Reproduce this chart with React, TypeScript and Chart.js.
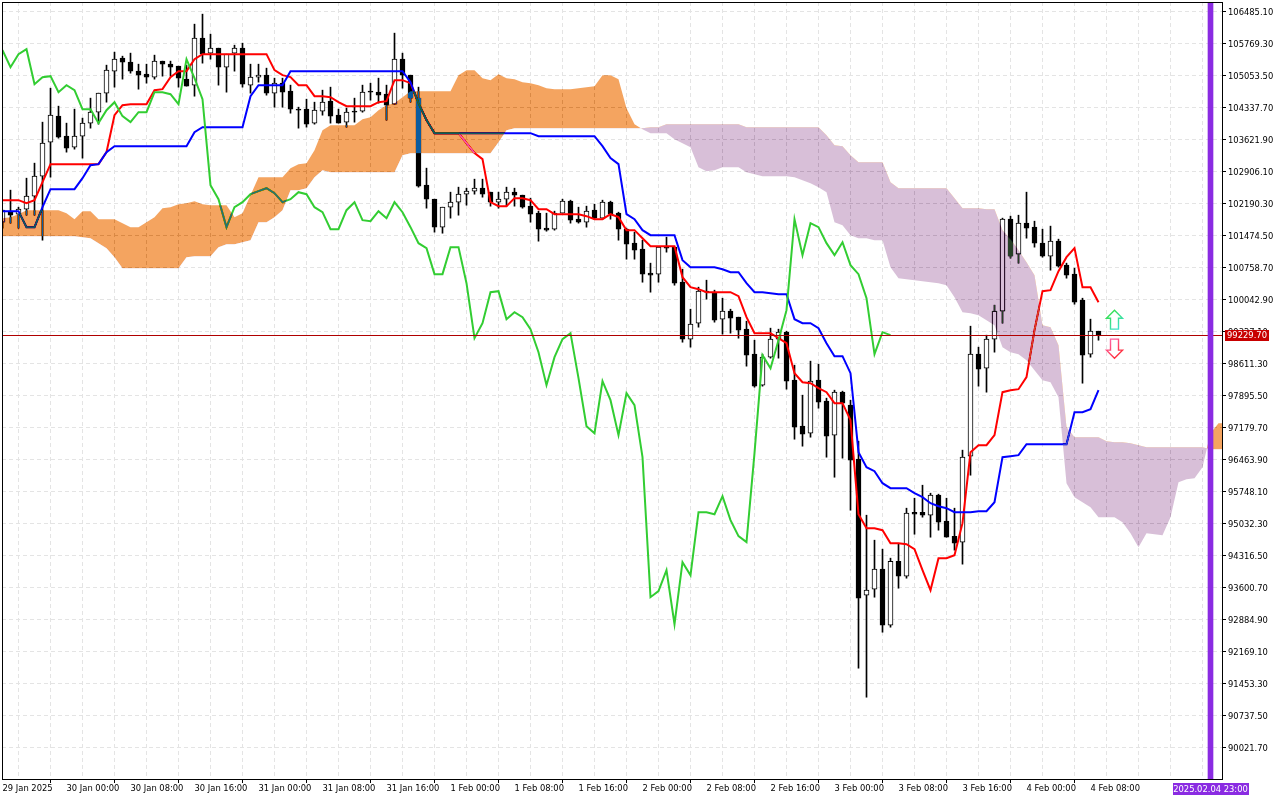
import React, { useEffect, useRef } from "react";
import { Chart, registerables } from "chart.js";

const OPENS = [
  101765, 101988, 101943, 102056, 102347, 102794, 103554, 104136, 103689, 103443,
  103689, 103980, 104225, 104651, 105143, 105434, 105344, 105143, 105076, 105009,
  105367, 105299, 105255, 104964, 104830, 105881, 105546, 105657, 105232, 105546,
  105657, 104830, 105009, 105053, 104651, 104874, 104695, 104293, 104293, 103980,
  104248, 104472, 104158, 104002, 104248, 104248, 104695, 104673, 104628, 104404,
  105411, 105053, 104539, 102593, 102279, 101653, 102100, 102212, 102391, 102458,
  102525, 102436, 102212, 102279, 102436, 102369, 102123, 101966, 101631, 101608,
  101966, 102235, 101832, 101765, 102033, 101855, 102212, 101966, 101608, 101295,
  101161, 100624, 100602, 101206, 101206, 100422, 99147, 99506, 100222, 100177,
  99595, 99774, 99640, 99371, 98812, 98118, 98745, 99147, 99304, 98230,
  97202, 97045, 98230, 97761, 97000, 97962, 97671, 96463, 93421, 93555,
  94003, 92750, 94181, 93846, 95277, 95277, 95210, 95658, 95076, 94740,
  94606, 96530, 98812, 98499, 99147, 99774, 101832, 101050, 101743, 101653,
  101295, 101005, 101340, 100803, 100602, 100020, 98812, 99326,
];
const CLOSES = [
  102033, 101921, 102056, 102347, 102794, 103532, 104158, 103666, 103420, 103689,
  103980, 104225, 104651, 105165, 105411, 105344, 105143, 105053, 105009, 105367,
  105299, 105232, 104986, 104808, 105881, 105523, 105657, 105232, 105523, 105657,
  104852, 105009, 105053, 104651, 104874, 104673, 104293, 104270, 103957, 104270,
  104449, 104136, 103980, 104225, 104225, 104673, 104673, 104606, 104382, 105411,
  105053, 104539, 102570, 102279, 101653, 102100, 102212, 102391, 102458, 102525,
  102391, 102212, 102279, 102436, 102369, 102100, 101943, 101608, 101586, 101966,
  102235, 101810, 101765, 102011, 101855, 102212, 101943, 101608, 101273, 101139,
  100602, 100579, 101206, 101184, 100400, 99147, 99484, 100222, 100199, 99573,
  99774, 99618, 99349, 98790, 98096, 98745, 99147, 99304, 98208, 97180,
  97023, 98208, 97738, 96978, 97962, 97716, 96441, 93354, 93533, 94003,
  92750, 94181, 93846, 95255, 95232, 95210, 95658, 95054, 94718, 94584,
  96508, 98812, 98477, 99147, 99774, 101832, 101005, 101743, 101631, 101295,
  101005, 101340, 100781, 100579, 99975, 98790, 99326, 99229.7,
];
const HIGHS = [
  102033, 102481, 102100, 102749, 103085, 104002, 104762, 104360, 103980, 104293,
  104092, 104539, 104651, 105277, 105568, 105478, 105546, 105299, 105299, 105501,
  105367, 105367, 105255, 105277, 106194, 106418, 105970, 105657, 105523, 105724,
  105769, 105299, 105299, 105210, 104986, 104986, 104830, 104337, 104516, 104449,
  104718, 104785, 104293, 104315, 104539, 104830, 104874, 104986, 104830, 105993,
  105546, 105053, 104785, 102973, 102279, 102100, 102436, 102548, 102525, 102727,
  102727, 102436, 102436, 102548, 102525, 102369, 102302, 102011, 101966, 102011,
  102279, 102257, 102100, 102123, 102167, 102257, 102235, 101988, 101631, 101541,
  101362, 100848, 101206, 101429, 101206, 100713, 99818, 100311, 100467, 100244,
  100064, 99818, 99640, 99550, 99125, 98812, 99394, 99371, 99326, 98566,
  97895, 98656, 98589, 97828, 98007, 97985, 97783, 96866, 95210, 94651,
  94450, 94249, 94562, 95367, 95590, 95881, 95702, 95680, 95590, 95367,
  96665, 99438, 98969, 99237, 99908, 101855, 101899, 101921, 102436, 101787,
  101608, 101676, 101385, 100848, 100736, 100064, 99595, 99326,
];
const LOWS = [
  101631, 101743, 101631, 101921, 101921, 101362, 102772, 103644, 103331, 103398,
  103197, 103868, 103957, 104449, 104785, 104964, 105098, 104740, 104874, 104964,
  105031, 105031, 104785, 104808, 104583, 105322, 105411, 104830, 104673, 105143,
  104785, 104651, 104897, 104606, 104337, 104337, 104203, 103868, 103890, 103957,
  104158, 103980, 103980, 103890, 104002, 104225, 104494, 104427, 104047, 104404,
  104762, 104449, 102548, 102078, 101541, 101518, 101855, 101921, 102145, 102391,
  102324, 102123, 102078, 102123, 102123, 102078, 101765, 101340, 101563, 101586,
  101966, 101743, 101743, 101653, 101832, 101832, 101832, 101362, 100937, 100937,
  100422, 100199, 100422, 101094, 100355, 99080, 98969, 99416, 100042, 99528,
  99260, 99282, 99170, 98544, 98074, 98096, 98723, 98723, 98029, 96910,
  96754, 96955, 97604, 96508, 96060, 96486, 95322, 91788, 91139, 93376,
  92593, 92705, 93577, 93801, 94785, 95166, 94718, 94875, 94718, 94428,
  94115, 96105, 98096, 97962, 98857, 99506, 100960, 100848, 101407, 101206,
  100982, 100691, 100758, 100512, 99930, 98163, 98745, 99125,
];
const TENKAN = [
  102257, 102257, 102257, 102190, 102257, 102659, 103063, 103063, 103063, 103063,
  103063, 103063, 103063, 103331, 104158, 104382, 104404, 104404, 104404, 104718,
  104740, 105009, 105143, 105143, 105411, 105523, 105523, 105523, 105523, 105523,
  105523, 105523, 105523, 105523, 105165, 105053, 105009, 104830, 104830, 104583,
  104583, 104561, 104449, 104360, 104360, 104360, 104360, 104449, 104472, 104941,
  104941, 104874, 104427, 104047, 103756, 103756, 103756, 103756, 103532, 103309,
  103174, 102212, 102123, 102123, 102302, 102302, 102257, 102056, 102056, 101943,
  101943, 101943, 101943, 101899, 101832, 101832, 101943, 101877, 101586, 101586,
  101407, 101228, 101228, 101228, 101228, 100534, 100311, 100266, 100199, 100199,
  100199, 100199, 100110, 99640, 99282, 99282, 99282, 99170, 99058, 98387,
  98185, 98163, 98051, 97962, 97716, 97716, 97336, 95232, 94920, 94920,
  94875, 94584, 94584, 94562, 94450, 93980, 93533, 94249, 94249, 94316,
  95032, 96620, 96776, 96776, 97000, 97962, 98007, 98029, 98298, 99349,
  100222, 100244, 100669, 100982, 101184, 100311, 100311, 99975,
];
const KIJUN = [
  102011, 102011, 102011, 101653, 101653, 102100, 102503, 102503, 102503, 102503,
  102749, 103040, 103063, 103331, 103465, 103465, 103465, 103465, 103465, 103465,
  103465, 103465, 103465, 103465, 103778, 103890, 103890, 103890, 103890, 103890,
  103890, 104583, 104830, 104830, 104830, 104830, 105143, 105143, 105143, 105143,
  105143, 105143, 105143, 105143, 105143, 105143, 105143, 105143, 105143, 105143,
  105143, 104897, 104427, 104047, 103756, 103756, 103756, 103756, 103756, 103756,
  103756, 103756, 103756, 103756, 103756, 103756, 103756, 103689, 103689, 103689,
  103689, 103689, 103689, 103689, 103689, 103465, 103197, 103063, 101943, 101832,
  101586, 101474, 101474, 101474, 101474, 100915, 100758, 100758, 100758, 100758,
  100713, 100646, 100646, 100400, 100199, 100199, 100177, 100154, 100154, 99595,
  99506, 99506, 99394, 99058, 98767, 98767, 98387, 96620, 96285, 96195,
  95926, 95815, 95815, 95815, 95703, 95613, 95479, 95412, 95367, 95278,
  95278, 95278, 95300, 95300, 95501, 96508, 96530, 96553, 96799, 96799,
  96799, 96799, 96799, 96799, 97515, 97515, 97582, 98007,
];
const CHIKOU = [
  105613, 105232, 105523, 105635, 104852, 105009, 105031, 104673, 104830, 104718,
  104293, 104293, 103980, 104270, 104449, 104136, 104002, 104225, 104225, 104673,
  104673, 104628, 104404, 105411, 104986, 104516, 102593, 102279, 101653, 102100,
  102212, 102391, 102458, 102525, 102414, 102212, 102279, 102436, 102391, 102100,
  101988, 101608, 101608, 102033, 102212, 101810, 101787, 102011, 101855, 102212,
  101988, 101653, 101295, 101184, 100602, 100602, 101206, 101206, 100400, 99170,
  99506, 100199, 100222, 99595, 99751, 99640, 99371, 98857, 98119, 98745,
  99147, 99282, 98275, 97202, 97045, 98208, 97783, 97000, 97940, 97671,
  96508, 93376, 93511, 93980, 92772, 94159, 93868, 95278, 95278, 95232,
  95635, 95099, 94741, 94607, 96598, 98790, 98499, 99125, 99796, 101832,
  101027, 101743, 101653, 101295, 101027, 101317, 100803, 100602, 100065, 98812,
  99304, 99237,
];
const SENKOU_A = [
  101855, 101877, 101943, 102033, 102033, 102033, 102033, 102033, 101966, 101832,
  102011, 102011, 101832, 101832, 101832, 101743, 101653, 101653, 101765, 101877,
  102078, 102100, 102167, 102190, 102235, 102167, 102145, 102145, 102145, 101877,
  101966, 102369, 102772, 102772, 102772, 102772, 102973, 103063, 103085, 103376,
  103823, 103935, 103935, 103935, 103935, 104069, 104114, 104270, 104382, 104427,
  104561, 104695, 104695, 104695, 104695, 104695, 104695, 105053, 105165, 105165,
  104986, 104941, 105076, 104986, 104964, 104897, 104874, 104830, 104762, 104740,
  104740, 104740, 104762, 104785, 104808, 105053, 105053, 104964, 104315, 103957,
  103845, 103756, 103756, 103756, 103622, 103532, 103443, 102995, 102906, 102928,
  102995, 102995, 102995, 102884, 102839, 102794, 102794, 102794, 102794, 102772,
  102704, 102637, 102548, 102436, 101765, 101698, 101474, 101407, 101407, 101362,
  101362, 100758, 100512, 100489, 100467, 100445, 100422, 100400, 100355, 100087,
  99751, 99729, 99685, 99573, 99461, 98969, 98857, 98813, 98678, 98454,
  98230, 98185, 97850, 95926, 95613, 95501, 95389, 95165, 95165, 95165,
  95054, 94808, 94495, 94808, 94785, 94763, 95165, 95948, 96015, 96038,
  96284, 97045, 97269, 97269,
];
const SENKOU_B = [
  101452, 101452, 101452, 101452, 101452, 101452, 101452, 101452, 101452, 101452,
  101429, 101407, 101295, 101184, 100982, 100736, 100736, 100736, 100736, 100736,
  100736, 100736, 100736, 100982, 101005, 101005, 101005, 101206, 101273, 101273,
  101318, 101362, 101765, 101765, 101877, 102033, 102481, 102481, 102525, 102772,
  102928, 102884, 102884, 102884, 102884, 102884, 102884, 102884, 102884, 102884,
  103264, 103309, 103309, 103309, 103309, 103309, 103309, 103309, 103309, 103309,
  103309, 103309, 103555, 103823, 103868, 103868, 103868, 103868, 103868, 103868,
  103868, 103868, 103868, 103868, 103868, 103868, 103868, 103868, 103868, 103868,
  103868, 103890, 103890, 103957, 103957, 103957, 103957, 103957, 103957, 103957,
  103957, 103957, 103957, 103890, 103890, 103890, 103890, 103890, 103890, 103890,
  103890, 103890, 103890, 103711, 103487, 103465, 103264, 103107, 103107, 103107,
  103107, 102659, 102525, 102525, 102525, 102525, 102525, 102525, 102525, 102302,
  102078, 102078, 102078, 102056, 102056, 101586, 101385, 101139, 100870, 100579,
  99461, 99416, 99013, 97180, 96955, 96955, 96955, 96955, 96865, 96843,
  96843, 96820, 96776, 96731, 96731, 96731, 96731, 96731, 96731, 96731,
  96731, 96686, 96686, 96686,
];
const Y_TICKS = [
  106485.1, 105769.3, 105053.5, 104337.7, 103621.9, 102906.1, 102190.3, 101474.5,
  100758.7, 100042.9, 99327.1, 98611.3, 97895.5, 97179.7, 96463.9, 95748.1,
  95032.3, 94316.5, 93600.7, 92884.9, 92169.1, 91453.3, 90737.5, 90021.7,
];
const X_LABELS = [
  "29 Jan 2025", "30 Jan 00:00", "30 Jan 08:00", "30 Jan 16:00", "31 Jan 00:00", "31 Jan 08:00",
  "31 Jan 16:00", "1 Feb 00:00", "1 Feb 08:00", "1 Feb 16:00", "2 Feb 00:00", "2 Feb 08:00",
  "2 Feb 16:00", "3 Feb 00:00", "3 Feb 08:00", "3 Feb 16:00", "4 Feb 00:00", "4 Feb 08:00",
];
const CURRENT_PRICE = 99229.7;
const PERIOD_BAR = 151;
const PERIOD_LABEL = "2025.02.04 23:00";
const ARROW_BAR = 139;
const UP_ARROW = [99796, 99372];
const DOWN_ARROW = [98723, 99148];

const Y_MAX = 106689.8;
const Y_MIN = 89309.3;
const X_MIN = -0.0625;
const X_MAX = 152.4375;
const FONT = { family: "'DejaVu Sans Condensed', 'DejaVu Sans', sans-serif", size: 9.3 };
const FONT_CSS = "9.3px 'DejaVu Sans Condensed', 'DejaVu Sans', sans-serif";
const CLOUD_ORANGE_DIFF = "rgb(11,91,159)";
const CLOUD_THISTLE_DIFF = "rgb(39,64,39)";

const toXY = (values: number[]) => values.map((y, x) => ({ x, y }));

const cloudBlend = {
  id: "cloudBlend",
  beforeDatasetDraw(chart: any, args: any) {
    if (chart.data.datasets[args.index].isCloud) chart.ctx.globalCompositeOperation = "difference";
  },
  afterDatasetDraw(chart: any, args: any) {
    if (chart.data.datasets[args.index].isCloud) chart.ctx.globalCompositeOperation = "source-over";
  },
};

const overlay = {
  id: "overlay",
  beforeDraw(chart: any) {
    const { ctx, width, height } = chart;
    ctx.save();
    ctx.fillStyle = "#ffffff";
    ctx.fillRect(0, 0, width, height);
    ctx.restore();
  },
  afterDraw(chart: any) {
    const { ctx, chartArea: a, scales } = chart;
    const x = scales.x;
    const y = scales.y;
    ctx.save();
    ctx.strokeStyle = "#000";
    ctx.lineWidth = 1;
    ctx.strokeRect(a.left + 0.5, a.top + 0.5, a.right - a.left, a.bottom - a.top);

    const arrow = (tip: number, base: number, colors: string[]) => {
      const cx = x.getPixelForValue(ARROW_BAR);
      const t = y.getPixelForValue(tip);
      const b = y.getPixelForValue(base);
      const d = b > t ? 1 : -1;
      const g = ctx.createLinearGradient(cx - 8, Math.min(t, b), cx + 8, Math.max(t, b));
      g.addColorStop(0, colors[0]);
      g.addColorStop(1, colors[1]);
      ctx.beginPath();
      ctx.moveTo(cx, t);
      ctx.lineTo(cx + 8, t + 8 * d);
      ctx.lineTo(cx + 4, t + 8 * d);
      ctx.lineTo(cx + 4, b);
      ctx.lineTo(cx - 4, b);
      ctx.lineTo(cx - 4, t + 8 * d);
      ctx.lineTo(cx - 8, t + 8 * d);
      ctx.closePath();
      ctx.fillStyle = "#fff";
      ctx.fill();
      ctx.strokeStyle = g;
      ctx.lineWidth = 1.4;
      ctx.stroke();
    };
    arrow(UP_ARROW[0], UP_ARROW[1], ["#32e032", "#40e0e0"]);
    arrow(DOWN_ARROW[0], DOWN_ARROW[1], ["#ff69b4", "#ff2020"]);

    ctx.font = FONT_CSS;
    ctx.textBaseline = "middle";
    ctx.textAlign = "center";
    const py = y.getPixelForValue(CURRENT_PRICE);
    ctx.fillStyle = "#c80000";
    ctx.fillRect(a.right + 3, Math.floor(py) - 5, 44, 11);
    ctx.fillStyle = "#fff";
    ctx.fillText(CURRENT_PRICE.toFixed(2), a.right + 25, Math.floor(py) + 1);

    const tx = x.getPixelForValue(PERIOD_BAR);
    ctx.fillStyle = "#8a2be2";
    ctx.fillRect(Math.round(tx - 38), a.bottom + 4, 76, 12);
    ctx.fillStyle = "#fff";
    ctx.fillText(PERIOD_LABEL, tx, a.bottom + 10.5);
    ctx.restore();
  },
};

Chart.register(cloudBlend);
Chart.register(...registerables);

const noPadding = (s: any) => {
  s.paddingLeft = 0;
  s.paddingRight = 0;
  s.paddingTop = 0;
  s.paddingBottom = 0;
};

export default function App() {
  const ref = useRef<HTMLCanvasElement>(null);
  useEffect(() => {
    document.body.style.margin = "0";
    const chart = new Chart(ref.current as HTMLCanvasElement, {
      type: "bar",
      plugins: [overlay],
      data: {
        datasets: [
          {
            type: "bar",
            label: "Period",
            data: [{ x: PERIOD_BAR, y: [Y_MIN, Y_MAX] }],
            backgroundColor: "#8a2be2",
            barThickness: 5,
            grouped: false,
            order: -2,
          },
          {
            type: "line",
            label: "Price",
            data: [
              { x: X_MIN, y: CURRENT_PRICE },
              { x: X_MAX, y: CURRENT_PRICE },
            ],
            borderColor: "#b00000",
            borderWidth: 1,
            pointRadius: 0,
            order: -1,
          },
          {
            type: "line",
            label: "Senkou A",
            isCloud: true,
            data: toXY(SENKOU_A),
            borderWidth: 0,
            borderColor: "transparent",
            pointRadius: 0,
            fill: { target: "+1", above: CLOUD_ORANGE_DIFF, below: CLOUD_THISTLE_DIFF },
            order: 0,
          },
          {
            type: "line",
            label: "Senkou B",
            data: toXY(SENKOU_B),
            borderWidth: 0,
            borderColor: "transparent",
            pointRadius: 0,
            fill: false,
            order: 0,
          },
          {
            type: "line",
            label: "Chikou",
            data: toXY(CHIKOU),
            borderColor: "#32cd32",
            borderWidth: 2,
            pointRadius: 0,
            order: 1,
          },
          {
            type: "line",
            label: "Kijun",
            data: toXY(KIJUN),
            borderColor: "#0000ff",
            borderWidth: 2,
            pointRadius: 0,
            order: 2,
          },
          {
            type: "line",
            label: "Tenkan",
            data: toXY(TENKAN),
            borderColor: "#ff0000",
            borderWidth: 2,
            pointRadius: 0,
            order: 3,
          },
          {
            type: "bar",
            label: "Body",
            data: OPENS.map((o, i) => ({ x: i, y: [o, CLOSES[i]] })),
            backgroundColor: OPENS.map((o, i) => (CLOSES[i] >= o ? "#ffffff" : "#000000")),
            borderColor: "#000000",
            borderWidth: 1,
            borderSkipped: false,
            barThickness: 5,
            grouped: false,
            order: 4,
          },
          {
            type: "bar",
            label: "Wick",
            data: LOWS.map((l, i) => ({ x: i, y: [l, HIGHS[i]] })),
            backgroundColor: "#000000",
            barThickness: 1,
            grouped: false,
            order: 5,
          },
        ] as any,
      },
      options: {
        responsive: false,
        animation: false,
        devicePixelRatio: 1,
        layout: { padding: { left: 2, top: 2, right: 0, bottom: 0 } },
        plugins: { legend: { display: false }, tooltip: { enabled: false } },
        scales: {
          x: {
            type: "linear",
            offset: false,
            min: X_MIN,
            max: X_MAX,
            afterBuildTicks(axis: any) {
              axis.ticks = Array.from({ length: 39 }, (_, k) => ({ value: k * 4 }));
            },
            afterFit(s: any) {
              s.height = 21;
              noPadding(s);
            },
            border: { display: false, dash: [4, 3] },
            grid: {
              color: "#e4e4e4",
              tickLength: 4,
              tickColor: (c: any) => (c.tick && c.tick.value % 8 === 0 && X_LABELS[c.tick.value / 8] ? "#000" : "transparent"),
            },
            ticks: {
              autoSkip: false,
              maxRotation: 0,
              minRotation: 0,
              align: "start",
              padding: 0,
              color: "#000",
              font: FONT,
              callback: (v: any) => (v % 8 === 0 && X_LABELS[v / 8] ? X_LABELS[v / 8] : ""),
            },
          },
          y: {
            type: "linear",
            position: "right",
            min: Y_MIN,
            max: Y_MAX,
            afterBuildTicks(axis: any) {
              axis.ticks = Y_TICKS.map((value) => ({ value }));
            },
            afterFit(s: any) {
              s.width = 58;
              noPadding(s);
            },
            border: { display: false, dash: [4, 3] },
            grid: { color: "#e4e4e4", tickLength: 4, tickColor: "#000" },
            ticks: {
              padding: 2,
              labelOffset: 1,
              color: "#000",
              font: FONT,
              callback: (v: any) => Number(v).toFixed(2),
            },
          },
        },
      } as any,
    });
    return () => chart.destroy();
  }, []);
  return <canvas ref={ref} width={1280} height={800} style={{ display: "block" }} />;
}
